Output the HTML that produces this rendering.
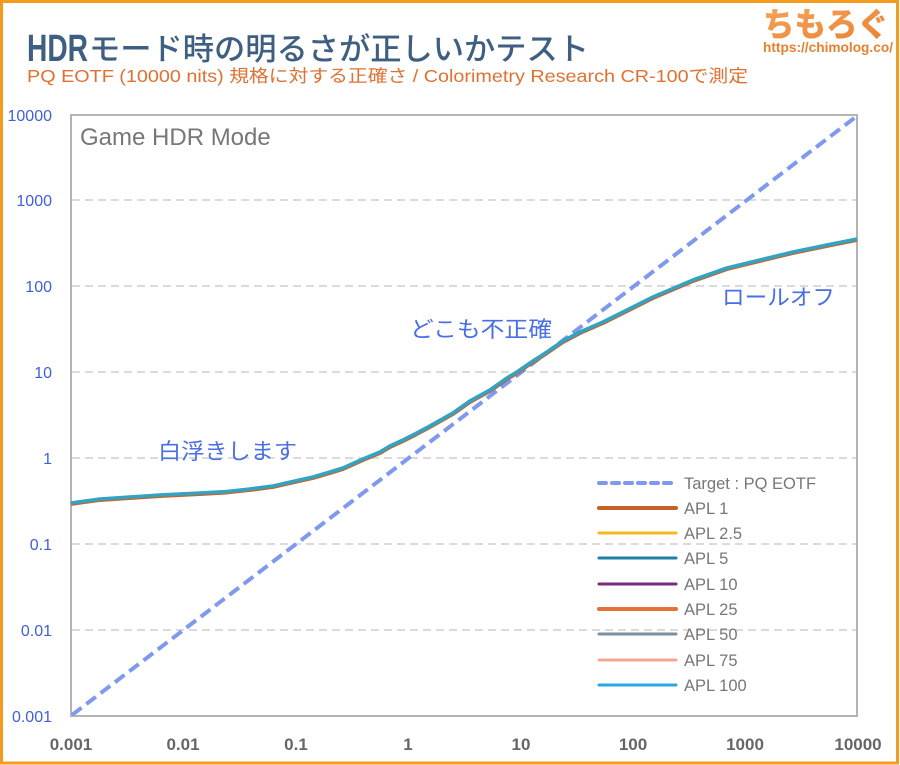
<!DOCTYPE html>
<html><head><meta charset="utf-8"><style>
html,body{margin:0;padding:0;background:#fff;}
svg{display:block;}
</style></head><body>
<svg width="900" height="765" viewBox="0 0 900 765" xmlns="http://www.w3.org/2000/svg">
<defs>
<linearGradient id="lg" x1="0" y1="0" x2="1" y2="1">
<stop offset="0" stop-color="#f7a35a"/><stop offset="1" stop-color="#e8822f"/>
</linearGradient>
</defs>
<rect x="0" y="0" width="900" height="765" fill="#fff"/>
<rect x="1.5" y="1.5" width="896" height="761.5" fill="none" stroke="#f39a1f" stroke-width="3"/>

<!-- Title -->
<text x="27" y="61" font-family="'Liberation Sans Narrow','Liberation Sans',sans-serif" font-weight="bold" font-size="38" fill="#3f5f82" textLength="61" lengthAdjust="spacingAndGlyphs">HDR</text>
<text x="89" y="60" font-family="'Liberation Sans','Noto Sans CJK JP',sans-serif" font-weight="500" font-size="31" fill="#3f5f82" textLength="500" lengthAdjust="spacingAndGlyphs">モード時の明るさが正しいかテスト</text>
<text x="27" y="82" font-family="'Liberation Sans','Noto Sans CJK JP',sans-serif" font-size="17.5" fill="#e27031" textLength="721" lengthAdjust="spacingAndGlyphs">PQ EOTF (10000 nits) 規格に対する正確さ / Colorimetry Research CR-100で測定</text>

<!-- Logo -->
<text x="763" y="36" font-family="'Liberation Sans','Noto Sans CJK JP',sans-serif" font-weight="900" font-size="33" fill="url(#lg)" textLength="126" lengthAdjust="spacingAndGlyphs">ちもろぐ</text>
<text x="763" y="52" font-family="'Liberation Sans Narrow','Liberation Sans',sans-serif" font-weight="bold" font-size="14" fill="#ea7f2e" textLength="130" lengthAdjust="spacingAndGlyphs">https://chimolog.co/</text>

<!-- gridlines -->
<g stroke="#cfcfcf" stroke-width="1.5" stroke-dasharray="8 5">
<line x1="72" y1="200" x2="856" y2="200"/>
<line x1="72" y1="286" x2="856" y2="286"/>
<line x1="72" y1="372" x2="856" y2="372"/>
<line x1="72" y1="458" x2="856" y2="458"/>
<line x1="72" y1="544" x2="856" y2="544"/>
<line x1="72" y1="630" x2="856" y2="630"/>
</g>
<!-- plot border -->
<rect x="71" y="115" width="786" height="601" fill="none" stroke="#b4b4b4" stroke-width="2"/>

<!-- Y labels -->
<g font-family="'Liberation Sans Narrow','Liberation Sans',sans-serif" font-size="16" fill="#3d5fe0" text-anchor="end">
<text x="52" y="121">10000</text>
<text x="52" y="206">1000</text>
<text x="52" y="292">100</text>
<text x="52" y="378">10</text>
<text x="52" y="464">1</text>
<text x="52" y="550">0.1</text>
<text x="52" y="636">0.01</text>
<text x="52" y="722">0.001</text>
</g>
<!-- X labels -->
<g font-family="'Liberation Sans Narrow','Liberation Sans',sans-serif" font-weight="bold" font-size="17" fill="#666" text-anchor="middle">
<text x="71" y="750">0.001</text>
<text x="183" y="750">0.01</text>
<text x="296" y="750">0.1</text>
<text x="408" y="750">1</text>
<text x="521" y="750">10</text>
<text x="633" y="750">100</text>
<text x="745" y="750">1000</text>
<text x="858" y="750">10000</text>
</g>

<text x="80" y="145" font-family="'Liberation Sans',sans-serif" font-size="24" fill="#777">Game HDR Mode</text>

<!-- Target -->
<line x1="72" y1="715" x2="857" y2="116" stroke="#7f98f0" stroke-width="4" stroke-dasharray="12 6"/>

<!-- Measured curve -->
<polyline fill="none" stroke="#c8632c" stroke-width="4.5" stroke-linejoin="round" transform="translate(0,0.7)"
points="71,503 100,499 130,497 160,495 200,493 227,491.5 250,489 273,486 295,481 313,477 330,472 343,468 363,459 380,452 390,446 403,440 415,434 430,426 453,413 470,401 490,390 507,378 517,372 530,363 547,352 563,341 580,332 603,322 627,310 653,297 693,280 727,268 760,260 793,252 827,245 857,239"/>
<polyline fill="none" stroke="#33a3c2" stroke-width="3.6" stroke-linejoin="round"
points="71,503 100,499 130,497 160,495 200,493 227,491.5 250,489 273,486 295,481 313,477 330,472 343,468 363,459 380,452 390,446 403,440 415,434 430,426 453,413 470,401 490,390 507,378 517,372 530,363 547,352 563,341 580,332 603,322 627,310 653,297 693,280 727,268 760,260 793,252 827,245 857,239"/>

<!-- Annotations -->
<g font-family="'Liberation Sans','Noto Sans CJK JP',sans-serif" font-size="22" fill="#4a6ee6">
<text x="158" y="459" textLength="139" lengthAdjust="spacingAndGlyphs">白浮きします</text>
<text x="410" y="337" textLength="142" lengthAdjust="spacingAndGlyphs">どこも不正確</text>
<text x="722" y="305" textLength="113" lengthAdjust="spacingAndGlyphs">ロールオフ</text>
</g>

<!-- Legend -->
<g stroke-linecap="round">
<line x1="599" y1="483" x2="676" y2="483" stroke="#7f98f0" stroke-width="4" stroke-dasharray="7 6"/>
<line x1="599" y1="508" x2="676" y2="508" stroke="#c8602a" stroke-width="4"/>
<line x1="599" y1="533" x2="676" y2="533" stroke="#f2b81c" stroke-width="3"/>
<line x1="599" y1="558" x2="676" y2="558" stroke="#1f7fa8" stroke-width="3"/>
<line x1="599" y1="584" x2="676" y2="584" stroke="#7a2a80" stroke-width="3"/>
<line x1="599" y1="609" x2="676" y2="609" stroke="#e8703a" stroke-width="4"/>
<line x1="599" y1="634" x2="676" y2="634" stroke="#7b8fa0" stroke-width="3"/>
<line x1="599" y1="660" x2="676" y2="660" stroke="#f0a890" stroke-width="3"/>
<line x1="599" y1="685" x2="676" y2="685" stroke="#28a8e0" stroke-width="3"/>
</g>
<g font-family="'Liberation Sans',sans-serif" font-size="16.5" fill="#777">
<text x="684" y="489">Target : PQ EOTF</text>
<text x="684" y="514">APL 1</text>
<text x="684" y="539">APL 2.5</text>
<text x="684" y="564">APL 5</text>
<text x="684" y="590">APL 10</text>
<text x="684" y="615">APL 25</text>
<text x="684" y="640">APL 50</text>
<text x="684" y="666">APL 75</text>
<text x="684" y="691">APL 100</text>
</g>
</svg>
</body></html>
